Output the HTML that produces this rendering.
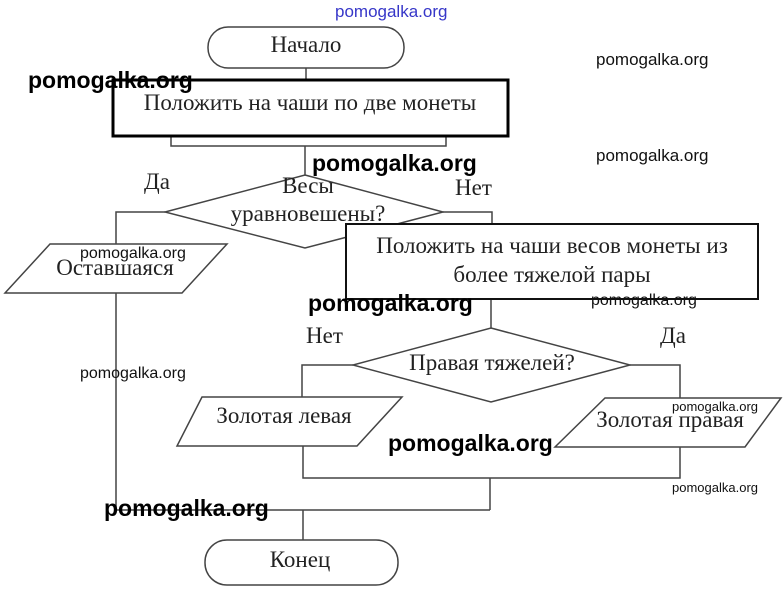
<!DOCTYPE html>
<html><head><meta charset="utf-8"><style>
html,body{margin:0;padding:0;background:#fff;}
svg{display:block;}
.t{font-family:"Liberation Serif","DejaVu Serif",serif;font-size:23px;fill:#222;}
.w{font-family:"Liberation Sans","DejaVu Sans",sans-serif;font-weight:bold;fill:#000;}
.s{font-family:"Liberation Sans","DejaVu Sans",sans-serif;fill:#111;}
</style></head><body>
<svg width="784" height="589" viewBox="0 0 784 589" xmlns="http://www.w3.org/2000/svg">
<g fill="none" stroke="#444" stroke-width="1.5">
<rect x="208" y="27" width="196" height="41" rx="20"/>
<line x1="306" y1="68" x2="306" y2="80"/>
<polyline points="171,136 171,146 446,146 446,136"/>
<line x1="305" y1="146" x2="305" y2="175"/>
<polygon points="305,175 443,212 305,248 165,212"/>
<polyline points="165,212 116,212 116,244"/>
<polygon points="50,244 227,244 182,293 5,293"/>
<polyline points="443,212 492,212 492,224"/>
<line x1="491" y1="299" x2="491" y2="328"/>
<polygon points="491,328 630,365 491,402 353,365"/>
<polyline points="353,365 302,365 302,397"/>
<polygon points="202,397 402,397 357,446 177,446"/>
<polyline points="630,365 680,365 680,398"/>
<polygon points="605,398 781,398 745,447 555,447"/>
<polyline points="303,446 303,478 680,478 680,447"/>
<line x1="490" y1="478" x2="490" y2="510"/>
<polyline points="116,293 116,510 490,510"/>
<line x1="303" y1="510" x2="303" y2="540"/>
<rect x="205" y="540" width="193" height="45" rx="22"/>
</g>
<rect x="113" y="80" width="395" height="56" fill="#fff" stroke="#000" stroke-width="3"/>
<rect x="346" y="224" width="412" height="75" fill="#fff" stroke="#111" stroke-width="2"/>
<text class="t" x="306" y="52" text-anchor="middle">Начало</text>
<text class="t" x="310" y="110" text-anchor="middle">Положить на чаши по две монеты</text>
<text class="t" x="144" y="189">Да</text>
<text class="t" x="455" y="195">Нет</text>
<text class="t" x="308" y="193" text-anchor="middle">Весы</text>
<text class="t" x="308" y="221" text-anchor="middle">уравновешены?</text>
<text class="t" x="115" y="275" text-anchor="middle">Оставшаяся</text>
<text class="t" x="552" y="253" text-anchor="middle">Положить на чаши весов монеты из</text>
<text class="t" x="552" y="282" text-anchor="middle">более тяжелой пары</text>
<text class="t" x="306" y="343">Нет</text>
<text class="t" x="660" y="343">Да</text>
<text class="t" x="492" y="370" text-anchor="middle">Правая тяжелей?</text>
<text class="t" x="284" y="423" text-anchor="middle">Золотая левая</text>
<text class="t" x="670" y="427" text-anchor="middle">Золотая правая</text>
<text class="t" x="300" y="567" text-anchor="middle">Конец</text>
<text class="s" x="335" y="17" font-size="17" style="fill:#3636c8">pomogalka.org</text>
<text class="w" x="28" y="88" font-size="23">pomogalka.org</text>
<text class="w" x="312" y="171" font-size="23">pomogalka.org</text>
<text class="w" x="308" y="311" font-size="23">pomogalka.org</text>
<text class="w" x="388" y="451" font-size="23">pomogalka.org</text>
<text class="w" x="104" y="516" font-size="23">pomogalka.org</text>
<text class="s" x="596" y="65" font-size="17">pomogalka.org</text>
<text class="s" x="596" y="161" font-size="17">pomogalka.org</text>
<text class="s" x="80" y="258" font-size="16">pomogalka.org</text>
<text class="s" x="591" y="305" font-size="16">pomogalka.org</text>
<text class="s" x="80" y="378" font-size="16">pomogalka.org</text>
<text class="s" x="672" y="411" font-size="13">pomogalka.org</text>
<text class="s" x="672" y="492" font-size="13">pomogalka.org</text>
</svg>
</body></html>
